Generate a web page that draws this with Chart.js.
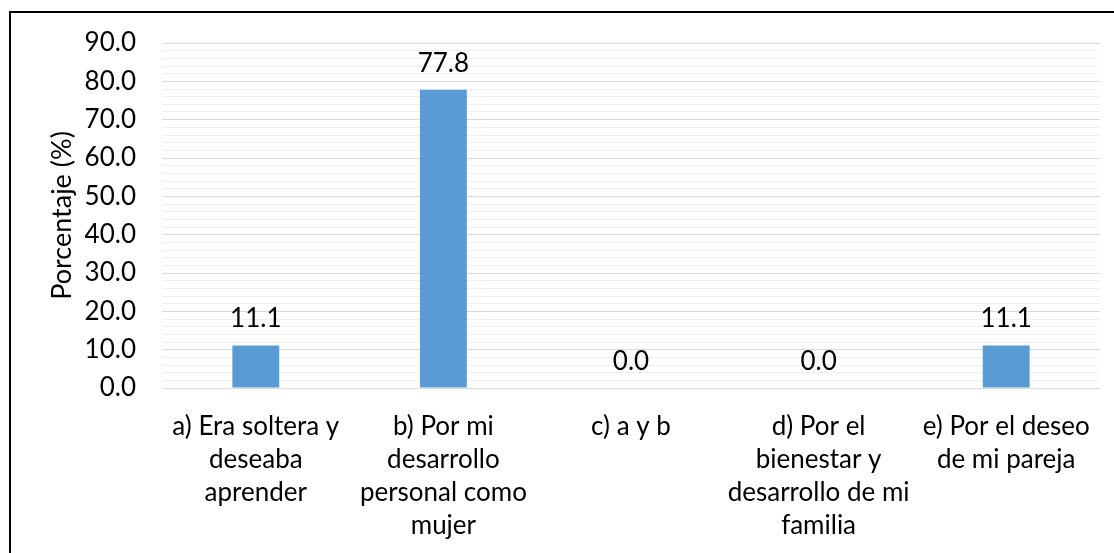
<!DOCTYPE html>
<html>
<head>
<meta charset="utf-8">
<script src="https://cdn.jsdelivr.net/npm/chart.js@4/dist/chart.umd.min.js"></script>
<style>
	body { margin: 0; background: #fff; }
	canvas { display: block; }
</style>
</head>
<body>
<canvas id="myChart" width="1114" height="553"></canvas>
<script>
/* datos del grafico */
const categorias = [
	["a) Era soltera y", "deseaba", "aprender"],
	["b) Por mi", "desarrollo", "personal como", "mujer"],
	["c) a y b"],
	["d) Por el", "bienestar y", "desarrollo de mi", "familia"],
	["e) Por el deseo", "de mi pareja"],
];
const porcentajes = [11.1, 77.8, 0.0, 0.0, 11.1];
const ejeY_min = 0;
const ejeY_max = 90;
const tituloY = "Porcentaje (%)";

const fuente = "Lato, 'Open Sans', sans-serif";

// marco negro alrededor del grafico
const marco = {
	id: "marco",
	beforeDraw(chart) {
		const c = chart.ctx;
		c.save();
		c.strokeStyle = "#000";
		c.lineWidth = 2;
		c.beginPath();
		c.moveTo(10, chart.height + 5);
		c.lineTo(10, 12);
		c.lineTo(chart.width + 5, 12);
		c.stroke();
		c.restore();
	},
};

// etiquetas de valor encima de cada barra
const etiquetas = {
	id: "etiquetas",
	afterDatasetsDraw(chart) {
		const c = chart.ctx;
		const meta = chart.getDatasetMeta(0);
		c.save();
		c.fillStyle = "#000";
		c.font = "26px " + fuente;
		c.textAlign = "center";
		c.textBaseline = "alphabetic";
		meta.data.forEach((bar, i) => {
			c.fillText(porcentajes[i].toFixed(1), bar.x, bar.y - 18);
		});
		c.restore();
	},
};

const ctx = document.getElementById("myChart").getContext("2d");
let myChart = new Chart(ctx, {
	type: "bar",
	data: {
		labels: categorias,
		datasets: [
			{
				label: "Porcentaje",
				data: porcentajes,
				backgroundColor: "#5b9bd5",
				borderWidth: 0,
				barPercentage: 0.25,
				categoryPercentage: 1,
			},
		],
	},
	options: {
		responsive: false,
		animation: false,
		layout: {
			padding: { top: 43, right: 14, bottom: 0, left: 0 },
		},
		plugins: {
			legend: { display: false },
			tooltip: { enabled: false },
		},
		scales: {
			x: {
				grid: { display: false },
				border: { display: false },
				ticks: {
					color: "#000",
					padding: 14,
					maxRotation: 0,
					autoSkip: false,
					font: { family: fuente, size: 26, lineHeight: 33 / 26 },
				},
				afterFit(scale) {
					scale.height = 165;
				},
			},
			y: {
				min: ejeY_min,
				max: ejeY_max,
				border: { display: false },
				grid: {
					drawTicks: false,
					color: (c) => (c.tick && c.tick.value % 10 === 0 ? "#d9d9d9" : "#efefef"),
					lineWidth: 1,
				},
				ticks: {
					stepSize: 2,
					autoSkip: false,
					color: "#000",
					padding: 26,
					font: { family: fuente, size: 26 },
					callback: (v) => (v % 10 === 0 ? v.toFixed(1) : ""),
				},
				title: {
					display: true,
					text: tituloY,
					color: "#000",
					padding: { top: 46, bottom: 0 },
					font: { family: fuente, size: 27 },
				},
				afterFit(scale) {
					scale.width = 162;
				},
			},
		},
	},
	plugins: [marco, etiquetas],
});
</script>
</body>
</html>
